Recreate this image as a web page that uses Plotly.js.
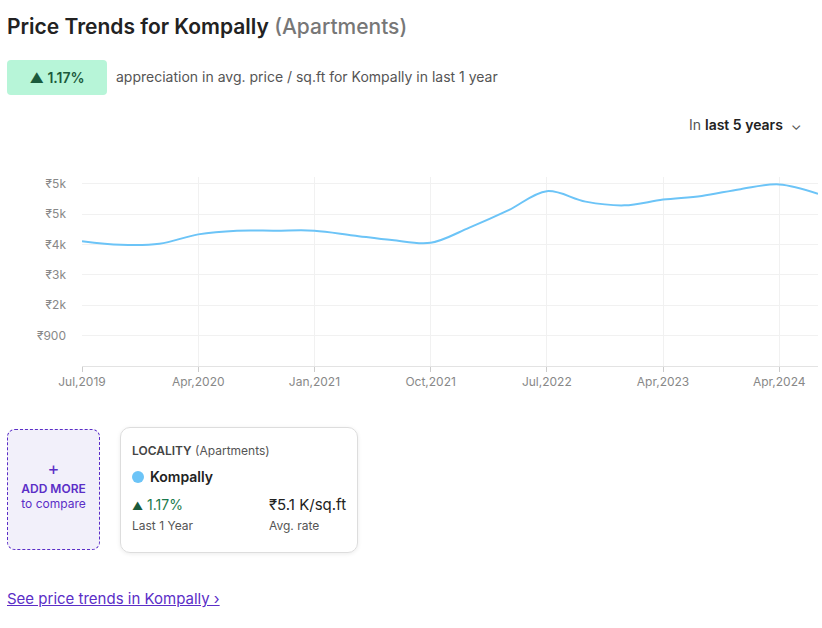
<!DOCTYPE html>
<html><head><meta charset="utf-8">
<script src="https://cdn.plot.ly/plotly-3.0.1.min.js"></script>
<style>
body{margin:0;font-family:Inter,"Noto Sans",sans-serif;color:#222;background:#fff;width:822px;height:628px;overflow:hidden;position:relative}
.t{position:absolute;left:7px;top:14px;font-size:21px;font-weight:600}
.t span{color:#777;font-weight:500}
.badge{position:absolute;left:7px;top:60px;width:100px;height:35px;background:#b7f5d8;border-radius:4px;font-size:14px;font-weight:600;line-height:35px;text-align:center;color:#1a5a3c}
.desc{position:absolute;left:116px;top:68px;font-size:14px;color:#555}
.sel{position:absolute;left:689px;top:116px;font-size:14px;color:#555}
.sel b{color:#222;font-weight:600}
#plt{position:absolute;left:0;top:150px}
.add{position:absolute;left:7px;top:429px;width:91px;height:119px;border:1px dashed #5b2ec7;border-radius:8px;background:#f2f0fa;text-align:center;color:#5b2ec7;font-size:12px}
.card{position:absolute;left:120px;top:427px;width:236px;height:124px;border:1px solid #ddd;border-radius:10px;box-shadow:0 1px 4px rgba(0,0,0,.08);font-size:12px;color:#555}
.link{position:absolute;left:7px;top:589px;font-size:15px;color:#5b2ec7;text-decoration:underline}
</style></head><body>
<div class="t">Price Trends for Kompally <span>(Apartments)</span></div>
<div class="badge">&#9650; 1.17%</div>
<div class="desc">appreciation in avg. price / sq.ft for Kompally in last 1 year</div>
<div class="sel">In <b>last 5 years</b> &nbsp;&#8964;</div>
<div id="plt"></div>
<div class="add"><div style="margin-top:28px;font-size:18px">+</div><div style="font-weight:600;margin-top:2px">ADD MORE</div><div>to compare</div></div>
<div class="card">
 <div style="position:absolute;left:11px;top:15px"><b style="color:#444;font-weight:600">LOCALITY</b> (Apartments)</div>
 <div style="position:absolute;left:11px;top:40px;font-size:14px;color:#222;font-weight:600"><span style="display:inline-block;width:12px;height:12px;border-radius:6px;background:#6cc4f7;vertical-align:-1px;margin-right:6px"></span>Kompally</div>
 <div style="position:absolute;left:11px;top:68px;font-size:14px;color:#1a7a4c"><span style="color:#1a5a3c;font-size:11px">&#9650;</span> 1.17%</div>
 <div style="position:absolute;left:148px;top:67px;font-size:15px;color:#222">&#8377;5.1 K/sq.ft</div>
 <div style="position:absolute;left:11px;top:90px">Last 1 Year</div>
 <div style="position:absolute;left:148px;top:90px">Avg. rate</div>
</div>
<div class="link">See price trends in Kompally &#8250;</div>
<script>
var prices = [3700,3590,3620,3900,4010,4010,4010,3870,3730,3650,4100,4610,5180,4870,4760,4930,5040,5240,5380,5100];
var tickLabels = ['Jul,2019','Apr,2020','Jan,2021','Oct,2021','Jul,2022','Apr,2023','Apr,2024'];
var tickIdx = [0,3,6,9,12,15,18];
var yTicks = [900,1800,2700,3600,4500,5400];
var yLabels = ['₹900','₹2k','₹3k','₹4k','₹5k','₹5k'];

var d = [{
  type:'scatter', mode:'lines',
  x: prices.map((_, i) => i), y: prices,
  line:{color:'#6cc4f7', width:2, shape:'spline', smoothing:1},
  hoverinfo:'skip'
}];
var l = {
  width:822, height:250,
  margin:{l:82, r:4, t:27, b:34},
  paper_bgcolor:'#fff', plot_bgcolor:'#fff',
  showlegend:false,
  font:{family:'Inter, sans-serif', size:12, color:'#888'},
  xaxis:{range:[0,19], tickvals:tickIdx, ticktext:tickLabels, showgrid:true, gridcolor:'#f1f1f1',
         zeroline:false, showline:true, linecolor:'#e3e3e3', ticks:'outside', ticklen:5, tickcolor:'#ccc'},
  yaxis:{range:[0,5600], tickvals:yTicks, ticktext:yLabels, showgrid:true, gridcolor:'#f1f1f1',
         zeroline:false, showline:false, ticks:'', ticklabelstandoff:15}
};
Plotly.newPlot('plt', d, l, {displayModeBar:false, staticPlot:true});
</script>
</body></html>
